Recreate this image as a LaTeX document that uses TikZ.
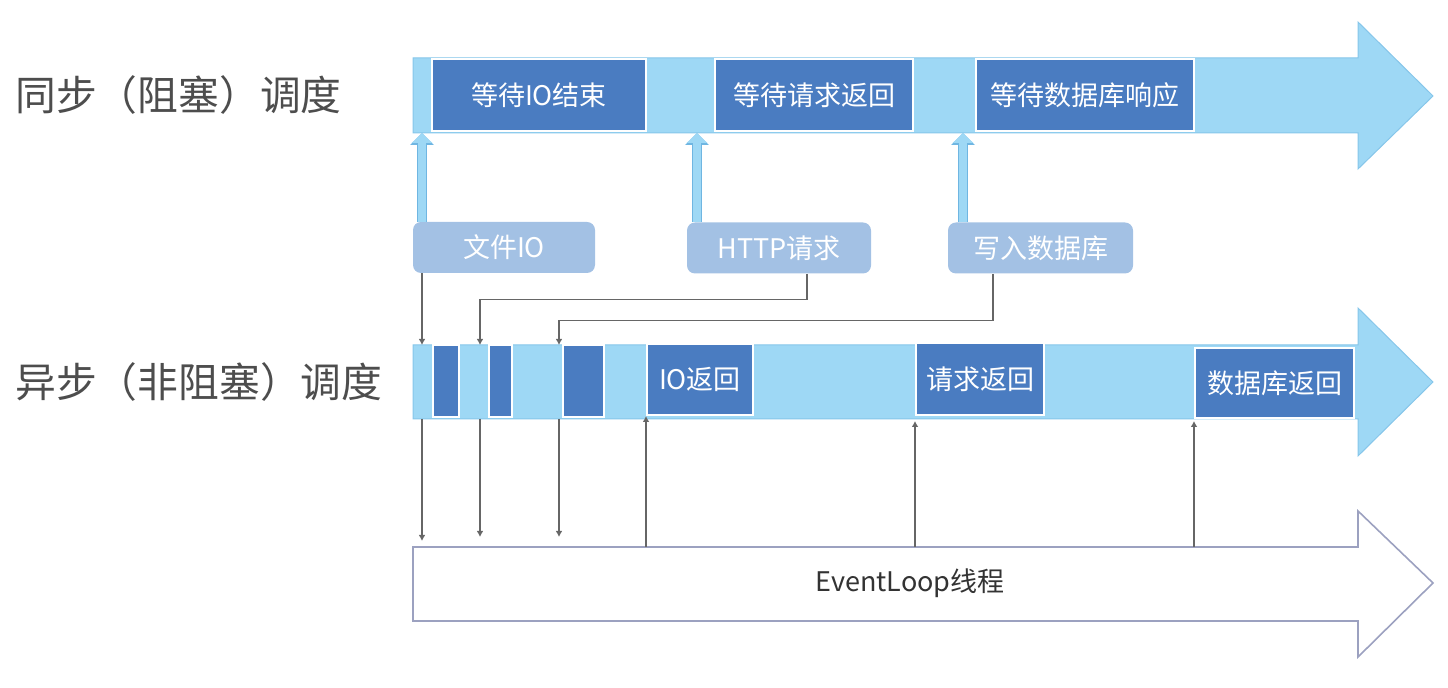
\documentclass[tikz,border=0pt]{standalone}
\usepackage{fontspec}
\setmainfont{Noto Sans CJK SC}
\usepackage{tikz}
\usetikzlibrary{arrows.meta}
\usetikzlibrary{positioning}
\definecolor{lightbar}{HTML}{9ED8F5}
\definecolor{lightedge}{HTML}{86C6EA}
\definecolor{darkbox}{HTML}{4A7CC1}
\definecolor{tagfill}{HTML}{A3C1E4}
\definecolor{upedge}{HTML}{6FB6E2}
\definecolor{loopedge}{HTML}{9CA1C0}
\definecolor{titlegray}{HTML}{4D4D4D}
\tikzset{
    font={\fontsize{13.5pt}{16pt}\selectfont},
    bar/.style={
           fill=lightbar,
           draw=lightedge, line width=0.5pt,
           line join=miter,
           },
    waitbox/.style={
           rectangle,
           draw=white, line width=1pt,
           fill=darkbox,
           text=white,
           inner sep=0pt,
           minimum height=36pt,
           text centered,
           },
    tagbox/.style={
           rectangle,
           rounded corners=4pt,
           fill=tagfill,
           text=white,
           inner sep=0pt,
           minimum width=92pt,
           minimum height=25.5pt,
           },
    title/.style={
           anchor=west,
           inner sep=0pt,
           text=titlegray,
           font={\fontsize{20.4pt}{24pt}\selectfont},
           },
    conn/.style={
           draw=black!60, line width=0.6pt,
           -{Latex[length=3pt,width=3.4pt]},
           },
    fatup/.style={
           draw=lightbar, line width=4.2pt,
           -{Triangle[length=5pt,width=10pt]},
           preaction={draw=upedge, line width=5.2pt, -{Triangle[length=6pt,width=11.4pt]}},
           },
}

\begin{document}
\begin{tikzpicture}[x=0.5pt,y=-0.5pt]
\useasboundingbox (0,0) rectangle (1448,688);

% row titles
\node[title] (SYNCTITLE)  at (15,95)  {同步（阻塞）调度};
\node[title] (ASYNCTITLE) at (15,382) {异步（非阻塞）调度};

% the three time lines
\path[bar] (413,58) -- (1358,58) -- (1358,22) -- (1433,96) -- (1358,169) -- (1358,133) -- (413,133) -- cycle;
\path[bar] (413,345) -- (1358,345) -- (1358,308) -- (1433,382) -- (1358,456) -- (1358,419) -- (413,419) -- cycle;
\path[draw=loopedge, line width=0.8pt, fill=white] (413,547) -- (1358,547) -- (1358,511) -- (1433,583) -- (1358,657) -- (1358,621) -- (413,621) -- cycle;

\node[text=black!80] (EVENTLOOP) at (910,583) {EventLoop线程};

% blocking row
\node[waitbox, minimum width=107pt] (WAITIO)   at (539,95)  {等待IO结束};
\node[waitbox, minimum width=99pt]  (WAITHTTP) at (814,95)  {等待请求返回};
\node[waitbox, minimum width=109pt] (WAITDB)   at (1085,95) {等待数据库响应};

% non blocking row
\node[waitbox, minimum width=13pt]   (ASYNCA)  at (446,381)     {};
\node[waitbox, minimum width=11.5pt] (ASYNCB)  at (500.5,381)   {};
\node[waitbox, minimum width=20.5pt] (ASYNCC)  at (583.5,381)   {};
\node[waitbox, minimum width=53pt, minimum height=35.5pt] (IORET)   at (700,379.5)  {IO返回};
\node[waitbox, minimum width=64pt]   (HTTPRET) at (980,379)     {请求返回};
\node[waitbox, minimum width=79.5pt, minimum height=35pt] (DBRET) at (1274.5,383) {数据库返回};

% tasks
\node[tagbox, minimum width=91pt]   (FILEIO)  at (504,247.5)  {文件IO};
\node[tagbox]                       (HTTPREQ) at (779,248)    {HTTP请求};
\node[tagbox, minimum width=92.5pt] (DBWRITE) at (1040.5,248) {写入数据库};

% points on the bars
\coordinate (S1) at (422,133);
\coordinate (S2) at (697,133);
\coordinate (S3) at (963,133);
\coordinate (A1) at (422,345);
\coordinate (A2) at (480,345);
\coordinate (A3) at (559,345);
\coordinate (ASYNCBOT) at (413,419);
\coordinate (ELTOP) at (413,547);

% blocking calls
\draw[fatup] (FILEIO.north -| S1)  -- (S1);
\draw[fatup] (HTTPREQ.north -| S2) -- (S2);
\draw[fatup] (DBWRITE.north -| S3) -- (S3);

% non blocking calls
\path (FILEIO.south -| A1) edge[conn] (A1);
\draw[conn] ([xshift=14pt]HTTPREQ.south) -- ++(0,26) -| (A2);
\draw[conn] ([xshift=-23.75pt]DBWRITE.south) -- ++(0,47) -| (A3);

\path (A1 |- ASYNCBOT) edge[conn, shorten >=3pt] (A1 |- ELTOP)
      (A2 |- ASYNCBOT) edge[conn, shorten >=5pt] (A2 |- ELTOP)
      (A3 |- ASYNCBOT) edge[conn, shorten >=5pt] (A3 |- ELTOP)
      (IORET.south west |- ELTOP)   edge[conn] (IORET.south west)
      (HTTPRET.south west |- ELTOP) edge[conn] ([yshift=-2.5pt]HTTPRET.south west)
      (DBRET.south west |- ELTOP)   edge[conn] ([yshift=-1pt]DBRET.south west);

\end{tikzpicture}
\end{document}
